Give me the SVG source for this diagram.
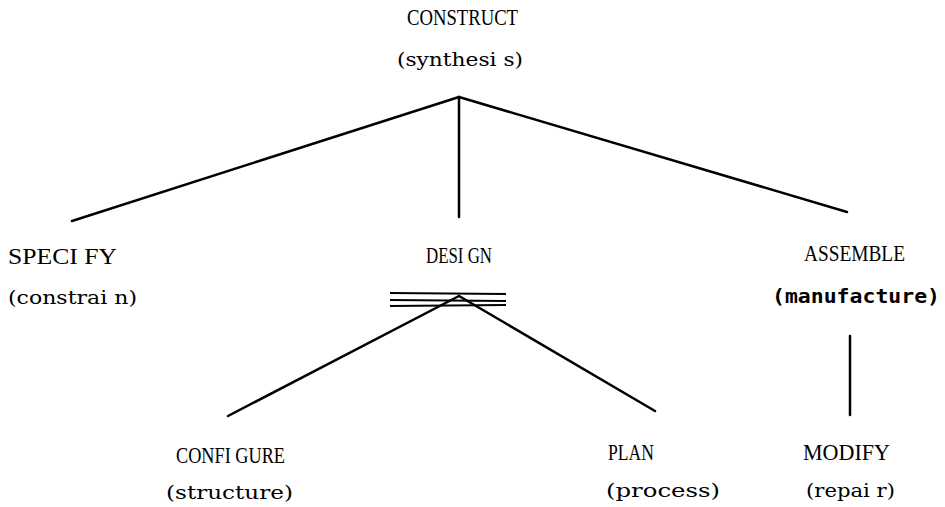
<svg xmlns="http://www.w3.org/2000/svg" width="945" height="507" viewBox="0 0 945 507">
<style>
.t{font-family:"Liberation Serif","Times New Roman",serif;font-size:23px;fill:#000}
.p{font-family:"DejaVu Serif","Liberation Serif",serif;font-size:19px;fill:#000}
.b{font-family:"DejaVu Sans Mono","Liberation Mono",monospace;font-size:20px;font-weight:bold;fill:#000}
.e{stroke:#000;stroke-width:2.5;fill:none;stroke-linecap:round}
.h{stroke:#000;stroke-width:2;fill:none}
</style>
<rect width="945" height="507" fill="#fff"/>
<g id="connectors">
<line class="e" x1="459" y1="97" x2="72" y2="221"/>
<line class="e" x1="459" y1="97" x2="459" y2="217"/>
<line class="e" x1="459" y1="97" x2="847" y2="212"/>
<line class="h" x1="390" y1="293" x2="506" y2="294"/>
<line class="h" x1="390" y1="300" x2="506" y2="301"/>
<line class="h" x1="390" y1="306" x2="506" y2="305"/>
<line class="e" x1="459" y1="296" x2="228" y2="416"/>
<line class="e" x1="459" y1="296" x2="655" y2="411"/>
<line class="e" x1="850" y1="336" x2="850" y2="415"/>
</g>
<g id="construct">
<text class="t" x="407" y="25" textLength="111" lengthAdjust="spacingAndGlyphs">CONSTRUCT</text>
<text class="p" x="397" y="66" textLength="126" lengthAdjust="spacingAndGlyphs">(synthesi s)</text>
</g>
<g id="specify">
<text class="t" x="8" y="264" textLength="109" lengthAdjust="spacingAndGlyphs">SPECI FY</text>
<text class="p" x="8" y="304" textLength="129" lengthAdjust="spacingAndGlyphs">(constrai n)</text>
</g>
<g id="design">
<text class="t" x="426" y="263" textLength="66" lengthAdjust="spacingAndGlyphs">DESI GN</text>
</g>
<g id="assemble">
<text class="t" x="804" y="261" textLength="101" lengthAdjust="spacingAndGlyphs">ASSEMBLE</text>
<text class="b" x="772" y="303" textLength="168" lengthAdjust="spacingAndGlyphs">(manufacture)</text>
</g>
<g id="configure">
<text class="t" x="176" y="463" textLength="109" lengthAdjust="spacingAndGlyphs">CONFI GURE</text>
<text class="p" x="166" y="499" textLength="127" lengthAdjust="spacingAndGlyphs">(structure)</text>
</g>
<g id="plan">
<text class="t" x="608" y="460" textLength="46" lengthAdjust="spacingAndGlyphs">PLAN</text>
<text class="p" x="606" y="497" textLength="114" lengthAdjust="spacingAndGlyphs">(process)</text>
</g>
<g id="modify">
<text class="t" x="803" y="460" textLength="87" lengthAdjust="spacingAndGlyphs">MODIFY</text>
<text class="p" x="806" y="497" textLength="89" lengthAdjust="spacingAndGlyphs">(repai r)</text>
</g>
</svg>
